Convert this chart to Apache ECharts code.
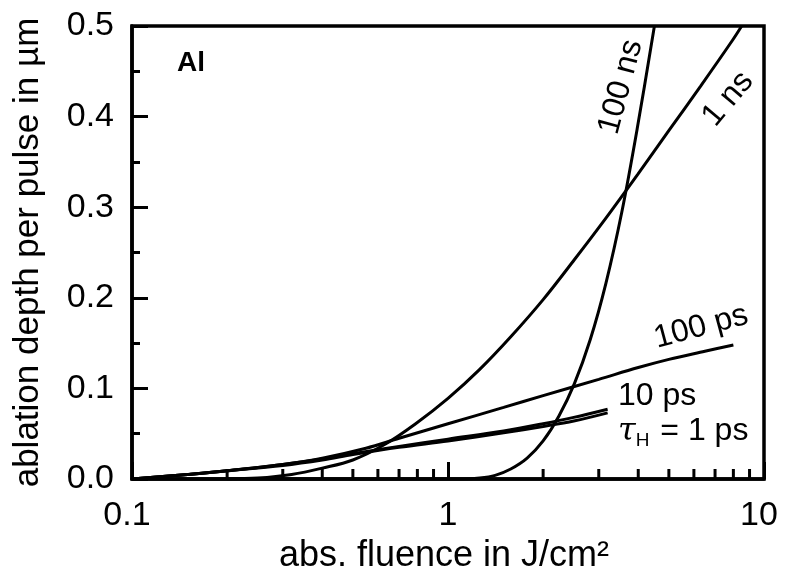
<!DOCTYPE html>
<html>
<head>
<meta charset="utf-8">
<script src="https://cdn.jsdelivr.net/npm/echarts@6/dist/echarts.min.js"></script>
<style>
  html, body { margin: 0; padding: 0; background: #fff; }
  #chart { width: 785px; height: 571px; }
</style>
</head>
<body>
<div id="chart"></div>
<script>
// Ablation depth vs absorbed fluence for Al, several pulse durations

// fluence values (J/cm²) and depths (µm)
const fluence1ps = [0.1, 0.15, 0.2, 0.3, 0.4, 0.5, 0.7, 1.0, 1.5, 2.0, 2.5, 3.2];
const depth1ps   = [0.0, 0.005, 0.009, 0.015, 0.021, 0.027, 0.035, 0.042, 0.051, 0.058, 0.064, 0.073];

const fluence10ps = [0.1, 0.15, 0.2, 0.3, 0.4, 0.5, 0.7, 1.0, 1.5, 2.0, 2.5, 3.2];
const depth10ps   = [0.0, 0.005, 0.009, 0.016, 0.022, 0.028, 0.036, 0.044, 0.053, 0.061, 0.068, 0.077];

const fluence100ps = [0.1, 0.15, 0.2, 0.3, 0.4, 0.55, 0.7, 1.0, 1.5, 2.0, 3.0, 4.0, 5.0, 6.5, 8.0];
const depth100ps   = [0.0, 0.005, 0.009, 0.016, 0.023, 0.034, 0.045, 0.061, 0.079, 0.092, 0.110, 0.123, 0.132, 0.141, 0.148];

const fluence1ns = [0.2, 0.25, 0.32, 0.4, 0.5, 0.63, 0.79, 1.0, 1.26, 1.58, 2.0, 2.51, 3.16, 3.98, 5.01, 6.31, 7.94, 8.5];
const depth1ns   = [0.0, 0.001, 0.005, 0.012, 0.021, 0.038, 0.061, 0.089, 0.121, 0.157, 0.198, 0.242, 0.288, 0.336, 0.385, 0.434, 0.484, 0.5];

const fluence100ns = [0.1, 1.12, 1.26, 1.41, 1.58, 1.78, 2.0, 2.24, 2.51, 2.82, 3.16, 3.55, 3.98, 4.5];
const depth100ns   = [0.0, 0.0, 0.001, 0.004, 0.011, 0.023, 0.042, 0.069, 0.105, 0.154, 0.216, 0.295, 0.389, 0.5];

// minor tick positions on the log axis
const xMinorTicks = [0.2, 0.3, 0.4, 0.5, 0.6, 0.7, 0.8, 0.9, 2, 3, 4, 5, 6, 7, 8, 9];

const FONT = '"Liberation Sans", Arial, sans-serif';

let pairs = (xs, ys) => xs.map((x, i) => [x, ys[i]]);

let curve = (name, xs, ys) => ({
  name: name,
  type: 'line',
  data: pairs(xs, ys),
  showSymbol: false,
  smooth: 0.35,
  clip: true,
  lineStyle: { color: '#000', width: 3 },
  z: 3
});

const chart = echarts.init(document.getElementById('chart'));

chart.setOption({
  animation: false,
  grid: {
    left: 132, right: 21, top: 26, bottom: 92,
    outerBoundsMode: 'none',
    containLabel: false,
    show: true, borderColor: '#000', borderWidth: 3.5, backgroundColor: 'transparent'
  },
  xAxis: {
    type: 'log',
    logBase: 10,
    min: 0.1,
    max: 10,
    name: 'abs. fluence in J/cm²',
    nameLocation: 'middle',
    nameGap: 48,
    nameTextStyle: { fontFamily: FONT, fontSize: 36, color: '#000', padding: [0, 8, 0, 0] },
    axisLine: { lineStyle: { color: '#000', width: 3.5 } },
    axisTick: { inside: true, length: 17, lineStyle: { color: '#000', width: 3 } },
    axisLabel: {
      fontFamily: FONT, fontSize: 34, color: '#000', margin: 20,
      // end labels sit slightly left of their ticks in the original
      formatter: (v) => (v === 1 ? '{m|1}' : '{e|' + v + '}'),
      rich: {
        m: { fontFamily: FONT, fontSize: 34, color: '#000' },
        e: { fontFamily: FONT, fontSize: 34, color: '#000', padding: [0, 10, 0, 0] }
      }
    },
    splitLine: { show: false }
  },
  yAxis: {
    type: 'value',
    min: 0,
    max: 0.5,
    interval: 0.1,
    name: 'ablation depth per pulse in µm',
    nameLocation: 'middle',
    nameGap: 86,
    nameTextStyle: { fontFamily: FONT, fontSize: 35, color: '#000' },
    axisLine: { show: true, lineStyle: { color: '#000', width: 3.5 } },
    axisTick: { show: true, inside: true, length: 16, lineStyle: { color: '#000', width: 3 } },
    minorTick: { show: true, splitNumber: 2, length: 8, lineStyle: { color: '#000', width: 3 } },
    axisLabel: { fontFamily: FONT, fontSize: 34, color: '#000', margin: 18,
      formatter: (v) => v.toFixed(1) },
    splitLine: { show: false }
  },
  graphic: [
    { type: 'text', x: 177, y: 77,
      style: { text: 'Al', fontFamily: FONT, fontSize: 28, fontWeight: 'bold', fill: '#000', verticalAlign: 'bottom' } },
    { type: 'text', x: 621, y: 87, rotation: 75 * Math.PI / 180,
      style: { text: '100 ns', fontFamily: FONT, fontSize: 32, fill: '#000', align: 'center', verticalAlign: 'middle' } },
    { type: 'text', x: 728, y: 99, rotation: 50 * Math.PI / 180,
      style: { text: '1 ns', fontFamily: FONT, fontSize: 32, fill: '#000', align: 'center', verticalAlign: 'middle' } },
    { type: 'text', x: 701, y: 327, rotation: 15 * Math.PI / 180,
      style: { text: '100 ps', fontFamily: FONT, fontSize: 32, fill: '#000', align: 'center', verticalAlign: 'middle' } },
    { type: 'text', x: 618, y: 412,
      style: { text: '10 ps', fontFamily: FONT, fontSize: 32, fill: '#000', align: 'left', verticalAlign: 'bottom' } },
    { type: 'text', x: 618, y: 450,
      style: {
        text: '{t|τ}{s|H} = 1 ps',
        fontFamily: FONT, fontSize: 32, fill: '#000', align: 'left', verticalAlign: 'bottom',
        rich: {
          t: { fontFamily: '"DejaVu Serif", serif', fontStyle: 'italic', fontSize: 32, fill: '#000' },
          s: { fontFamily: FONT, fontSize: 19, fill: '#000', padding: [18, 2, 0, 0] }
        }
      } }
  ],
  series: [
    curve('1 ps', fluence1ps, depth1ps),
    curve('10 ps', fluence10ps, depth10ps),
    curve('100 ps', fluence100ps, depth100ps),
    curve('1 ns', fluence1ns, depth1ns),
    curve('100 ns', fluence100ns, depth100ns),
    {
      name: 'minor ticks',
      type: 'custom',
      data: xMinorTicks.map((v) => [v, 0]),
      clip: false,
      z: 2,
      renderItem: (params, api) => {
        const p = api.coord([api.value(0), 0]);
        return {
          type: 'line',
          shape: { x1: p[0], y1: p[1], x2: p[0], y2: p[1] - 10 },
          style: { stroke: '#000', lineWidth: 3 }
        };
      }
    }
  ]
});
</script>
</body>
</html>
